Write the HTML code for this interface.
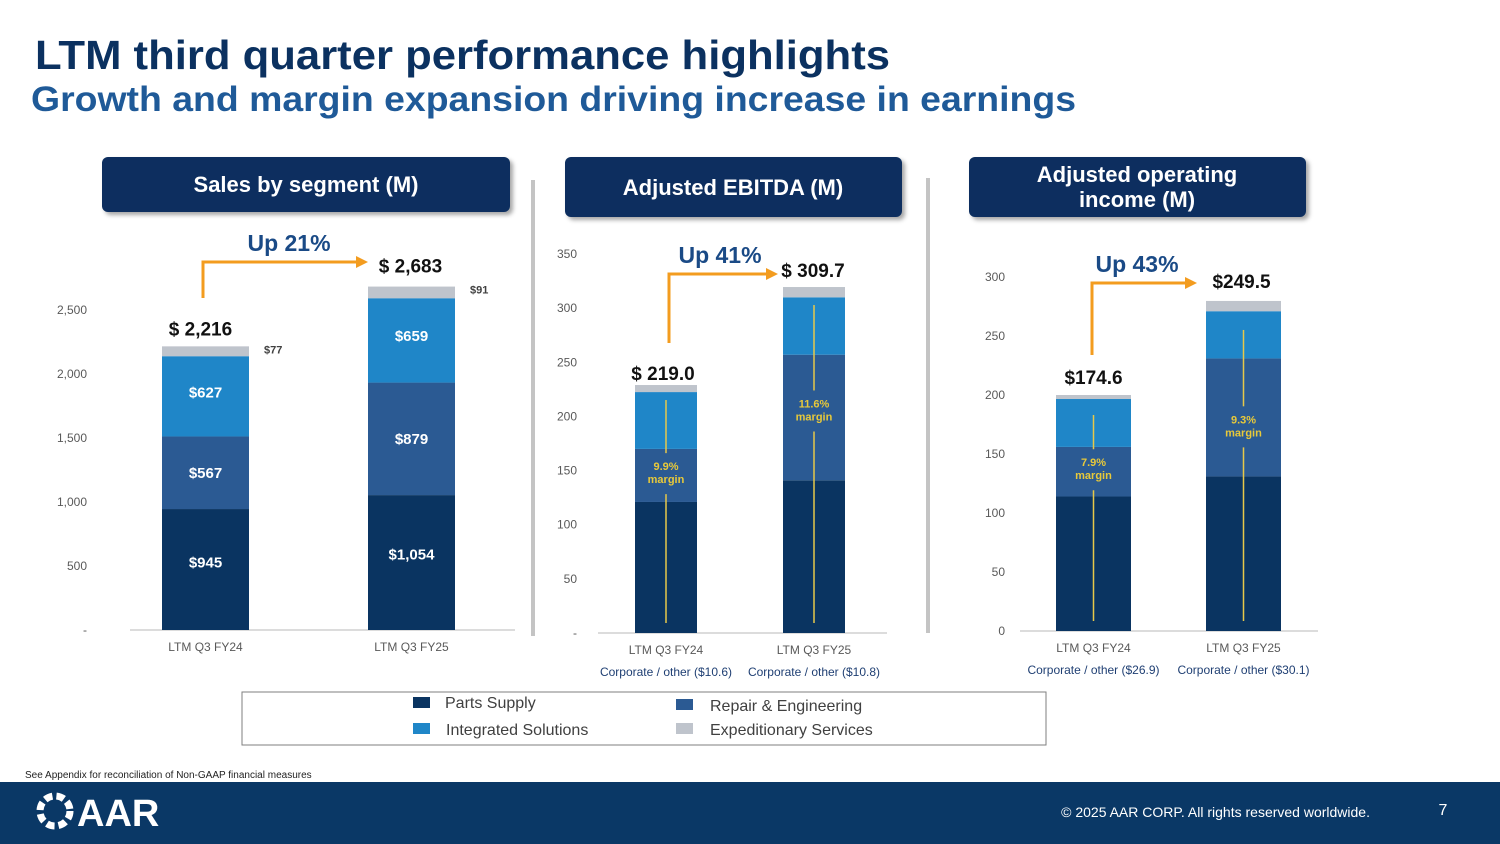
<!DOCTYPE html>
<html><head><meta charset="utf-8"><style>
html,body{margin:0;padding:0;background:#fff;}
svg{display:block;font-family:"Liberation Sans",Arial,sans-serif;}
</style></head><body>
<svg id="s" width="1500" height="844" viewBox="0 0 1500 844" xmlns="http://www.w3.org/2000/svg">
<defs><filter id="sh" x="-10%" y="-20%" width="130%" height="160%"><feDropShadow dx="3" dy="3" stdDeviation="2" flood-color="#000" flood-opacity="0.35"/></filter></defs>
<text x="35" y="69" font-size="41" font-weight="bold" fill="#0b3160" textLength="855" lengthAdjust="spacingAndGlyphs">LTM third quarter performance highlights</text>
<text x="31" y="111" font-size="35" font-weight="bold" fill="#1f5a98" textLength="1045" lengthAdjust="spacingAndGlyphs">Growth and margin expansion driving increase in earnings</text>

<g><rect x="102" y="157" width="408" height="55" rx="6" fill="#0b2f5e" filter="url(#sh)"/><text x="306" y="192" font-size="22" font-weight="bold" fill="#fff" text-anchor="middle">Sales by segment (M)</text></g>
<g><rect x="565" y="157" width="337" height="60" rx="6" fill="#0b2f5e" filter="url(#sh)"/><text x="733" y="195" font-size="22" font-weight="bold" fill="#fff" text-anchor="middle">Adjusted EBITDA (M)</text></g>
<g><rect x="969" y="157" width="337" height="60" rx="6" fill="#0b2f5e" filter="url(#sh)"/><text x="1137" y="182" font-size="22" font-weight="bold" fill="#fff" text-anchor="middle">Adjusted operating</text><text x="1137" y="207" font-size="22" font-weight="bold" fill="#fff" text-anchor="middle">income (M)</text></g>

<rect x="531" y="180" width="4" height="456" fill="#c4c4c4"/>
<rect x="926" y="178" width="4" height="455" fill="#c4c4c4"/>

<g id="charts"></g>

<g>
<rect x="242" y="692" width="804" height="53" fill="#fff" stroke="#7f7f7f" stroke-width="1"/>
<g><rect x="413" y="697" width="17" height="11" fill="#0a3461"/><text x="445" y="708" font-size="16" fill="#404040">Parts Supply</text></g>
<g><rect x="676" y="699" width="17" height="11" fill="#2b5a93"/><text x="710" y="711" font-size="16" fill="#404040">Repair &amp; Engineering</text></g>
<g><rect x="413" y="723" width="17" height="11" fill="#1f86c8"/><text x="446" y="735" font-size="16" fill="#404040">Integrated Solutions</text></g>
<g><rect x="676" y="723" width="17" height="11" fill="#bfc4cc"/><text x="710" y="735" font-size="16" fill="#404040">Expeditionary Services</text></g>
</g>

<text x="25" y="778" font-size="10" fill="#222">See Appendix for reconciliation of Non-GAAP financial measures</text>
<rect x="0" y="782" width="1500" height="62" fill="#0a3866"/>
<g>
<circle cx="55" cy="811" r="15" fill="none" stroke="#fff" stroke-width="7" stroke-dasharray="8 4"/>
<text x="77" y="826" font-size="38" font-weight="bold" fill="#fff">AAR</text>
</g>
<text x="1370" y="817" font-size="14" fill="#fff" text-anchor="end">© 2025 AAR CORP. All rights reserved worldwide.</text>
<text x="1443" y="815" font-size="16" fill="#fff" text-anchor="middle">7</text>
</svg>
<script>
const categories = ["LTM Q3 FY24", "LTM Q3 FY25"];
const segments = ["Parts Supply", "Repair & Engineering", "Integrated Solutions", "Expeditionary Services"];
const salesParts = [945, 1054];
const salesRepair = [567, 879];
const salesIntegrated = [627, 659];
const salesExpeditionary = [77, 91];
const salesTotals = ["$ 2,216", "$ 2,683"];
const salesTicks = [0, 500, 1000, 1500, 2000, 2500];
const salesTickLabels = ["-", "500", "1,000", "1,500", "2,000", "2,500"];
const ebitdaParts = [121, 141];
const ebitdaRepair = [49, 116];
const ebitdaIntegrated = [52.5, 53];
const ebitdaExpeditionary = [6.5, 9.5];
const ebitdaTotals = ["$ 219.0", "$ 309.7"];
const ebitdaMargins = ["9.9%", "11.6%"];
const ebitdaCorporate = ["Corporate / other ($10.6)", "Corporate / other ($10.8)"];
const ebitdaTicks = [0, 50, 100, 150, 200, 250, 300, 350];
const ebitdaTickLabels = ["-", "50", "100", "150", "200", "250", "300", "350"];
const opParts = [114, 131];
const opRepair = [42, 100];
const opIntegrated = [40.6, 40];
const opExpeditionary = [3.4, 8.7];
const opTotals = ["$174.6", "$249.5"];
const opMargins = ["7.9%", "9.3%"];
const opCorporate = ["Corporate / other ($26.9)", "Corporate / other ($30.1)"];
const opTicks = [0, 50, 100, 150, 200, 250, 300];
const opTickLabels = ["0", "50", "100", "150", "200", "250", "300"];
const growthLabels = ["Up 21%", "Up 41%", "Up 43%"];

const NS = "http://www.w3.org/2000/svg";
const colors = ["#0a3461", "#2b5a93", "#1f86c8", "#bfc4cc"];
const root = document.getElementById("charts");
function mk(tag, attrs, parent, txt) {
  const e = document.createElementNS(NS, tag);
  for (const k in attrs) e.setAttribute(k, attrs[k]);
  if (txt !== undefined) e.textContent = txt;
  (parent || root).appendChild(e);
  return e;
}

function chart(cfg) {
  const g = mk("g", {});
  
  
  const y = v => cfg.y0 - (v / cfg.vmax) * (cfg.y0 - cfg.yTop);
  const series = [cfg.parts, cfg.repair, cfg.integ, cfg.exped];
  cfg.ticks.forEach((t, i) => {
    const tl = mk("text", {x: cfg.tickX, y: y(t) + 4, "font-size": 12, fill: "#595959", "text-anchor": "end"}, g, cfg.tickLabels[i]);
    
    
  });
  const ax = mk("line", {x1: cfg.axX1, x2: cfg.axX2, y1: cfg.y0, y2: cfg.y0, stroke: "#d0d0d0", "stroke-width": 1.5}, g);
  
  
  categories.forEach((c, i) => {
    const bx = cfg.barX[i];
    let cum = 0;
    const segTops = [];
    series.forEach((s, k) => {
      const v = s[i];
      const r = mk("rect", {x: bx, y: y(cum + v), width: cfg.barW, height: y(cum) - y(cum + v), fill: colors[k]}, g);
      
      
      segTops.push({from: cum, to: cum + v});
      cum += v;
    });
    const cx = bx + cfg.barW / 2;
    const xl = mk("text", {x: cx, y: cfg.y0 + 21, "font-size": 12, fill: "#595959", "text-anchor": "middle"}, g, c);
    
    
    if (cfg.corporate) {
      const co = mk("text", {x: cx, y: cfg.y0 + 43, "font-size": 12, fill: "#1f3f73", "text-anchor": "middle"}, g, cfg.corporate[i]);
      
      
    }
    if (cfg.segLabels) {
      const fr = [0.56, 0.5, 0.55];
      series.slice(0, 3).forEach((s, k) => {
        const mid = y(segTops[k].from + s[i] * fr[k]);
        const lab = "$" + s[i].toLocaleString("en-US");
        const t = mk("text", {x: cx, y: mid + 5, "font-size": 15, "font-weight": "bold", fill: "#fff", "text-anchor": "middle"}, g, lab);
        
        
      });
      const et = mk("text", {x: bx + cfg.barW + 15, y: y(cum) + 7, "font-size": 11, "font-weight": "bold", fill: "#404040"}, g, "$" + cfg.exped[i]);
      
      
    }
    if (cfg.margins) {
      const ty = y(cfg.parts[i] + cfg.repair[i] * cfg.mPos[i]);
      const l1 = mk("line", {x1: cx, x2: cx, y1: y(cum) + cfg.lineGap[i], y2: ty - 17, stroke: "#e6c84a", "stroke-width": 1.5}, g);
      
      
      const l2 = mk("line", {x1: cx, x2: cx, y1: ty + 24, y2: cfg.y0 - 10, stroke: "#e6c84a", "stroke-width": 1.5}, g);
      
      
      const m1 = mk("text", {x: cx, y: ty, "font-size": 11, "font-weight": "bold", fill: "#e8c93a", "text-anchor": "middle"}, g, cfg.margins[i]);
      
      
      const m2 = mk("text", {x: cx, y: ty + 13, "font-size": 11, "font-weight": "bold", fill: "#e8c93a", "text-anchor": "middle"}, g, "margin");
      
      
    }
    const tt = mk("text", {x: cx + cfg.totDx[i], y: y(cum) + cfg.totDy[i], "font-size": 19, "font-weight": "bold", fill: "#111", "text-anchor": "middle"}, g, cfg.totals[i]);
    
    
  });
  const a = cfg.arrow;
  const ar = mk("path", {d: `M${a.x1} ${a.yStart} V${a.yTop} H${a.x2 - 10}`, fill: "none", stroke: "#f39c1f", "stroke-width": 3}, g);
  
  
  const ah = mk("path", {d: `M${a.x2 - 12} ${a.yTop - 6} L${a.x2} ${a.yTop} L${a.x2 - 12} ${a.yTop + 6} Z`, fill: "#f39c1f"}, g);
  
  
  const gl = mk("text", {x: a.lx, y: a.yTop - 11, "font-size": 23, "font-weight": "bold", fill: "#1a4a86", "text-anchor": "middle"}, g, cfg.growth);
  
  
}

chart({name: "sales-chart", parts: salesParts, repair: salesRepair, integ: salesIntegrated, exped: salesExpeditionary,
  totals: salesTotals, ticks: salesTicks, tickLabels: salesTickLabels, vmax: 2500, y0: 630, yTop: 310,
  tickX: 87, axX1: 130, axX2: 515, barX: [162, 368], barW: 87, segLabels: true,
  totDx: [-5, -1], totDy: [-11, -14], growth: growthLabels[0],
  arrow: {x1: 203, x2: 368, yStart: 298, yTop: 262, lx: 289}});
chart({name: "ebitda-chart", parts: ebitdaParts, repair: ebitdaRepair, integ: ebitdaIntegrated, exped: ebitdaExpeditionary,
  totals: ebitdaTotals, ticks: ebitdaTicks, tickLabels: ebitdaTickLabels, vmax: 350, y0: 633, yTop: 254,
  tickX: 577, axX1: 598, axX2: 887, barX: [635, 783], barW: 62, corporate: ebitdaCorporate,
  margins: ebitdaMargins, mPos: [0.6, 0.58], lineGap: [15, 18], totDx: [-3, -1], totDy: [-5, -10], growth: growthLabels[1],
  arrow: {x1: 669, x2: 778, yStart: 343, yTop: 274, lx: 720}});
chart({name: "operating-income-chart", parts: opParts, repair: opRepair, integ: opIntegrated, exped: opExpeditionary,
  totals: opTotals, ticks: opTicks, tickLabels: opTickLabels, vmax: 300, y0: 631, yTop: 277,
  tickX: 1005, axX1: 1020, axX2: 1318, barX: [1056, 1206], barW: 75, corporate: opCorporate,
  margins: opMargins, mPos: [0.61, 0.45], lineGap: [20, 29], totDx: [0, -2], totDy: [-11, -13], growth: growthLabels[2],
  arrow: {x1: 1092, x2: 1197, yStart: 355, yTop: 283, lx: 1137}});
</script>
</body></html>
